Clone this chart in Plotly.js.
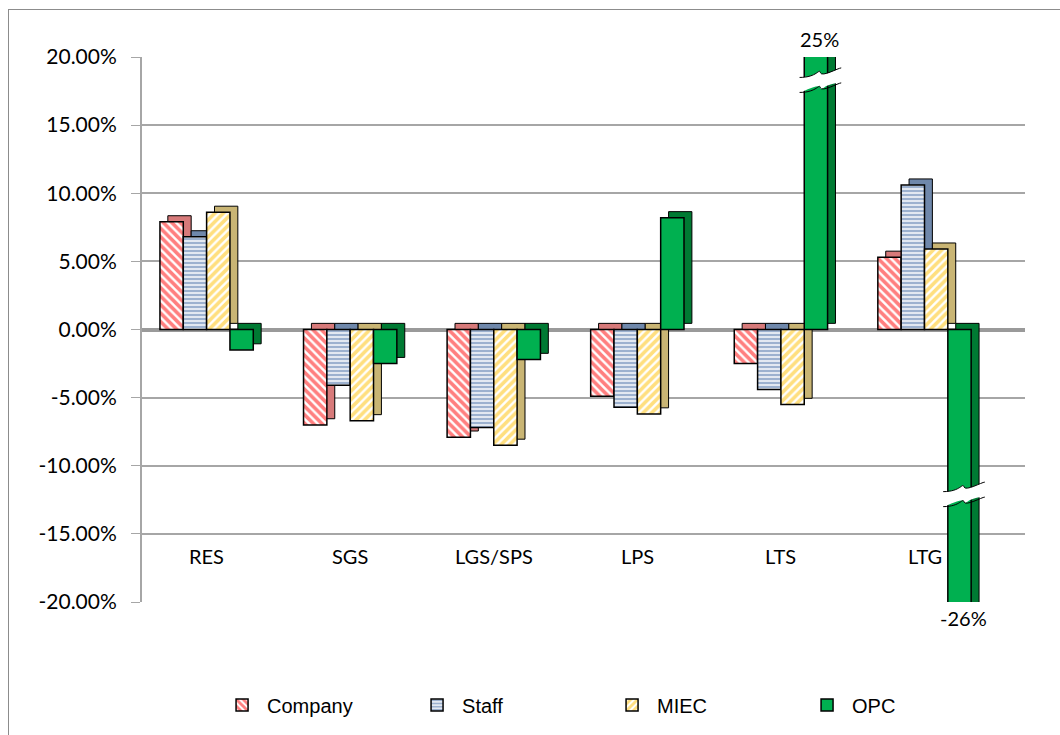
<!DOCTYPE html>
<html>
<head>
<meta charset="utf-8">
<script src="https://cdn.plot.ly/plotly-3.0.1.min.js"></script>
<style>
  html, body { margin: 0; padding: 0; background: #fff; }
  #wrap { position: relative; width: 1060px; height: 735px; overflow: hidden; }
  #chart { position: absolute; left: 0; top: 0; width: 1060px; height: 735px; }
  #frame { position: absolute; left: 8px; top: 9px; width: 1100px; height: 800px; border: 1px solid #8c8c8c; pointer-events: none; }
</style>
</head>
<body>
<div id="wrap"><div id="chart"></div><div id="frame"></div></div>
<script>
// ---- data ----
const categories = ['RES', 'SGS', 'LGS/SPS', 'LPS', 'LTS', 'LTG'];
const company = [0.079, -0.070, -0.079, -0.049, -0.025, 0.053];
const staff   = [0.068, -0.041, -0.072, -0.057, -0.044, 0.106];
const miec    = [0.086, -0.067, -0.085, -0.062, -0.055, 0.059];
const opc     = [-0.015, -0.025, -0.022, 0.082, 0.25, -0.26];
const seriesNames = ['Company', 'Staff', 'MIEC', 'OPC'];
const yTicks = [-0.20, -0.15, -0.10, -0.05, 0, 0.05, 0.10, 0.15, 0.20];
const yTickText = yTicks.map(v => (v * 100).toFixed(2) + '%');

const seriesValues = [company, staff, miec, opc];

// ---- style ----
const yMin = -0.2, yMax = 0.2;
const bargap = 0.35;
const nSeries = seriesValues.length;
const barW = (1 - bargap) / nSeries;
const depthX = 0.055;   // 3D depth (category units)
const depthY = 0.0045;  // 3D depth (value units)
const offsets = seriesValues.map((_, i) => -(1 - bargap) / 2 + barW * i);
const FONT = 'Lato, "Open Sans", sans-serif';

const frontStyles = [
  { color: '#ffffff', pattern: { shape: '\\', fgcolor: '#ff0000', bgcolor: '#ffffff', size: 6, solidity: 0.6, fillmode: 'overlay' } },
  { color: '#ffffff', pattern: { shape: '-', fgcolor: '#3a64a0', bgcolor: '#ffffff', size: 4, solidity: 0.65, fillmode: 'overlay' } },
  { color: '#ffffff', pattern: { shape: '/', fgcolor: '#ffbf00', bgcolor: '#ffffff', size: 6, solidity: 0.6, fillmode: 'overlay' } },
  { color: '#00b050' }
];
const sideColors = ['#d77a7a', '#6f88ab', '#c9b574', '#007a33'];

const traces = [];
// depth (side/top faces) behind
seriesValues.forEach((vals, i) => {
  traces.push({
    type: 'bar', x: categories, y: vals, base: depthY,
    offset: offsets[i] + depthX, width: barW,
    marker: { color: sideColors[i], line: { color: '#000', width: 1 } },
    showlegend: false, hoverinfo: 'skip'
  });
});
// front faces
seriesValues.forEach((vals, i) => {
  traces.push({
    name: seriesNames[i], type: 'bar', x: categories, y: vals,
    offset: offsets[i], width: barW,
    marker: Object.assign({ line: { color: '#000', width: 1.5 } }, frontStyles[i])
  });
});

// annotations: category labels inside plot + broken-bar values
const annotations = categories.map((c) => ({
  x: c, y: -0.166, xref: 'x', yref: 'y', text: c, showarrow: false,
  font: { family: FONT, size: 20, color: '#000' }
}));

const shapes = [];
opc.forEach((v, i) => {
  if (v > yMax || v < yMin) {
    const top = v > yMax;
    const xc = i + offsets[3] + barW / 2;
    annotations.push({
      x: xc + depthX / 2, y: top ? yMax : yMin, xref: 'x', yref: 'y',
      text: Math.round(v * 100) + '%', showarrow: false,
      yanchor: top ? 'bottom' : 'top', yshift: top ? 4 : -2,
      font: { family: FONT, size: 20, color: '#000' }
    });
    // break mark across the bar
    const x0 = xc - barW * 0.7, x1 = xc + barW * 0.5 + depthX + 0.04;
    const yc = top ? 0.183 : -0.121;
    const h = 0.011, w = 0.0035;
    const xm = (x0 + x1) / 2;
    const wave = (y) => `M${x0},${y - w} C${xm - 0.02},${y - w} ${xm - 0.01},${y + w} ${xm},${y} S${x1 - 0.02},${y + w} ${x1},${y + w}`;
    shapes.push({
      type: 'path', xref: 'x', yref: 'y', layer: 'above',
      path: `M${x0},${yc + h / 2 - w} C${xm - 0.02},${yc + h / 2 - w} ${xm - 0.01},${yc + h / 2 + w} ${xm},${yc + h / 2} S${x1 - 0.02},${yc + h / 2 + w} ${x1},${yc + h / 2 + w} L${x1},${yc - h / 2 + w} C${xm + 0.02},${yc - h / 2 + w} ${xm + 0.01},${yc - h / 2 - w} ${xm},${yc - h / 2} S${x0 + 0.02},${yc - h / 2 - w} ${x0},${yc - h / 2 - w} Z`,
      fillcolor: '#ffffff', line: { width: 0 }
    });
    shapes.push({ type: 'path', xref: 'x', yref: 'y', layer: 'above', path: wave(yc + h / 2), line: { color: '#000', width: 1 } });
    shapes.push({ type: 'path', xref: 'x', yref: 'y', layer: 'above', path: wave(yc - h / 2), line: { color: '#000', width: 1 } });
  }
});

const layout = {
  width: 1060, height: 735,
  paper_bgcolor: '#ffffff', plot_bgcolor: '#ffffff',
  margin: { l: 142, r: 35, t: 57, b: 132 },
  barmode: 'overlay',
  font: { family: FONT, size: 20, color: '#000' },
  xaxis: {
    type: 'category', range: [-0.45, categories.length - 1 + 0.7],
    showticklabels: false, showgrid: false, zeroline: false, showline: false, ticks: ''
  },
  yaxis: {
    range: [yMin, yMax], tickvals: yTicks, ticktext: yTickText,
    showgrid: true, gridcolor: '#a6a6a6', gridwidth: 2,
    zeroline: true, zerolinecolor: '#9a9a9a', zerolinewidth: 4,
    showline: true, linecolor: '#a6a6a6', linewidth: 2,
    ticks: 'outside', ticklen: 9, tickcolor: '#a6a6a6', tickwidth: 1,
    ticklabelstandoff: 10,
    tickfont: { family: FONT, size: 21, color: '#000' },
    automargin: false
  },
  showlegend: true,
  legend: {
    orientation: 'h', x: 0.085, xanchor: 'left', y: -0.187, yanchor: 'middle',
    entrywidth: 140, entrywidthmode: 'pixels', itemwidth: 40,
    font: { family: '"Liberation Sans", Arial, sans-serif', size: 20, color: '#000' },
    traceorder: 'normal'
  },
  annotations: annotations,
  shapes: shapes
};

Plotly.newPlot('chart', traces, layout, { displayModeBar: false, staticPlot: true });
</script>
</body>
</html>
